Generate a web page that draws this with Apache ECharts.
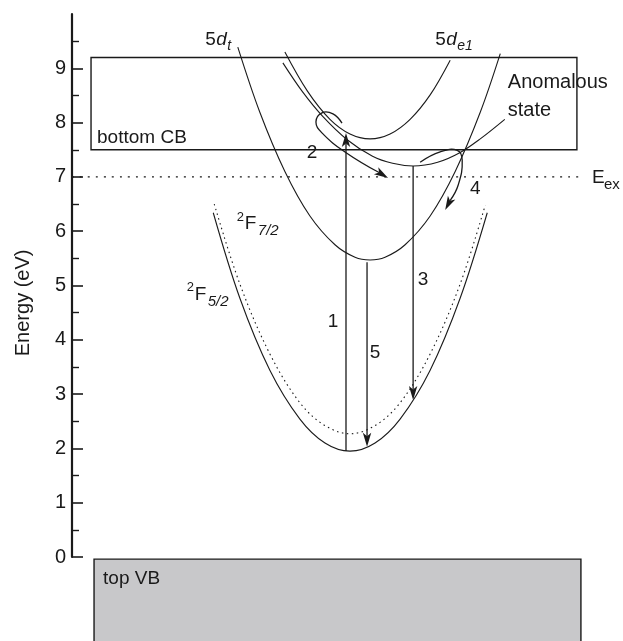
<!DOCTYPE html>
<html>
<head>
<meta charset="utf-8">
<script src="https://cdn.jsdelivr.net/npm/echarts@6/dist/echarts.min.js"></script>
<style>
  html, body { margin: 0; padding: 0; background: #fff; }
  #chart { width: 623px; height: 641px; }
</style>
</head>
<body>
<div id="chart"></div>
<script>
// Energy axis (eV)
const energyTicks = [0, 1, 2, 3, 4, 5, 6, 7, 8, 9];
const energyMax = 10;

// Potential curves: configuration coordinate Q (arb. units) and energy E (eV)
const f52Q = [2.82, 3.35, 3.95, 4.55, 5.05, 5.55, 6.05, 6.55, 7.15, 7.75, 8.29];
const f52E = [6.34, 4.77, 3.44, 2.54, 2.10, 1.95, 2.10, 2.54, 3.44, 4.77, 6.34];

const f72Q = [2.84, 3.35, 3.95, 4.55, 5.05, 5.55, 6.05, 6.55, 7.15, 7.75, 8.25];
const f72E = [6.50, 5.03, 3.74, 2.84, 2.42, 2.27, 2.42, 2.84, 3.74, 5.03, 6.48];

const dtQ = [3.31, 3.75, 4.25, 4.75, 5.25, 5.65, 5.95, 6.25, 6.65, 7.15, 7.65, 8.15, 8.55];
const dtE = [9.39, 8.19, 7.10, 6.28, 5.75, 5.52, 5.47, 5.52, 5.75, 6.28, 7.10, 8.19, 9.27];

const de1Q = [4.25, 4.70, 5.15, 5.55, 5.95, 6.35, 6.75, 7.15, 7.55];
const de1E = [9.30, 8.58, 8.06, 7.79, 7.70, 7.79, 8.06, 8.51, 9.15];

const anomQ = [4.21, 4.60, 5.01, 5.50, 6.00, 6.40, 6.81, 7.30, 7.75, 8.15, 8.64];
const anomE = [9.10, 8.57, 8.11, 7.68, 7.38, 7.25, 7.20, 7.27, 7.45, 7.70, 8.06];

// Exciton level E_ex
const exQ = [0, 10.2];
const exE = [7.0, 7.0];

// Band edges
const cbQ = [0.38, 10.08];
const cbE = [7.5, 9.2];
const vbQ = [0.44, 10.16];
const vbE = [-1.6, -0.04];

// Transitions (start ... end; the arrowhead sits on the last point)
const arrow1Q = [5.47, 5.47];
const arrow1E = [1.95, 7.81];
const arrow2Q = [5.39, 5.21, 4.99, 4.87, 4.99, 5.45, 6.31];
const arrow2E = [7.99, 8.16, 8.18, 8.01, 7.81, 7.46, 6.98];
const arrow3Q = [6.81, 6.81];
const arrow3E = [7.20, 2.89];
const arrow4Q = [6.95, 7.35, 7.69, 7.79, 7.71, 7.45];
const arrow4E = [7.27, 7.46, 7.49, 7.31, 6.85, 6.39];
const arrow5Q = [5.89, 5.89];
const arrow5E = [5.43, 2.03];

const pairs = (q, e) => q.map((v, i) => [v, e[i]]);
const arrows = [
  pairs(arrow1Q, arrow1E),
  pairs(arrow2Q, arrow2E),
  pairs(arrow3Q, arrow3E),
  pairs(arrow4Q, arrow4E),
  pairs(arrow5Q, arrow5E)
];

const FONT = '"Liberation Sans", Arial, Helvetica, sans-serif';
const INK = '#1a1a1a';

// Text labels, anchored in data space; pieces carry their own typographic offsets
const labels = [
  { at: [-0.96, 4.68], rot: true, pieces: [{ t: 'Energy (eV)', s: 20, align: 'center' }] },
  { at: [5.21, 4.33], pieces: [{ t: '1', s: 19, align: 'center' }] },
  { at: [4.79, 7.44], pieces: [{ t: '2', s: 19, align: 'center' }] },
  { at: [7.01, 5.10], pieces: [{ t: '3', s: 19, align: 'center' }] },
  { at: [8.05, 6.78], pieces: [{ t: '4', s: 19, align: 'center' }] },
  { at: [6.05, 3.76], pieces: [{ t: '5', s: 19, align: 'center' }] },
  { at: [0.50, 7.72], pieces: [{ t: 'bottom CB', s: 19 }] },
  { at: [0.62, -0.40], pieces: [{ t: 'top VB', s: 19 }] },
  { at: [8.70, 8.73], pieces: [{ t: 'Anomalous', s: 20 }] },
  { at: [8.70, 8.23], pieces: [{ t: 'state', s: 20 }] },
  { at: [10.38, 6.98], pieces: [{ t: 'E', s: 19 }, { t: 'ex', s: 15, dx: 12, dy: 7 }] },
  { at: [2.66, 9.52], pieces: [{ t: '5', s: 19 }, { t: 'd', s: 19, dx: 11, i: true }, { t: 't', s: 14, dx: 22, dy: 6, i: true }] },
  { at: [7.25, 9.52], pieces: [{ t: '5', s: 19 }, { t: 'd', s: 19, dx: 11, i: true }, { t: 'e1', s: 14, dx: 22, dy: 6, i: true }] },
  { at: [3.29, 6.13], pieces: [{ t: '2', s: 13, dy: -7 }, { t: 'F', s: 19, dx: 8 }, { t: '7/2', s: 15, dx: 21, dy: 7, i: true }] },
  { at: [2.29, 4.83], pieces: [{ t: '2', s: 13, dy: -7 }, { t: 'F', s: 19, dx: 8 }, { t: '5/2', s: 15, dx: 21, dy: 7, i: true }] }
];

function curve(name, q, e, dash) {
  return {
    name, type: 'line', data: pairs(q, e), smooth: 0.35, symbol: 'none',
    clip: false, silent: true, z: 3,
    lineStyle: { color: INK, width: 1.1, type: dash || 'solid' }
  };
}

function boxSeries(name, q, e, fill, z) {
  return {
    name, type: 'custom', clip: false, silent: true, z,
    data: [[q[0], e[0], q[1], e[1]]],
    renderItem(params, api) {
      const p0 = api.coord([api.value(0), api.value(3)]);
      const p1 = api.coord([api.value(2), api.value(1)]);
      return {
        type: 'rect',
        shape: { x: p0[0], y: p0[1], width: p1[0] - p0[0], height: p1[1] - p0[1] },
        style: { fill, stroke: INK, lineWidth: 1.4 }
      };
    }
  };
}

const option = {
  animation: false,
  backgroundColor: '#fff',
  grid: { left: 72, right: 0, top: 14, bottom: 84, containLabel: false },
  xAxis: { type: 'value', min: 0, max: 11, show: false },
  yAxis: {
    type: 'value', min: 0, max: energyMax, interval: 1,
    axisLine: { show: true, lineStyle: { color: INK, width: 2.2 } },
    axisTick: { show: true, inside: true, length: 11, customValues: energyTicks,
                lineStyle: { color: INK, width: 1.6 } },
    minorTick: { show: true, splitNumber: 2, length: 7, lineStyle: { color: INK, width: 1.4 } },
    splitLine: { show: false },
    axisLabel: {
      fontFamily: FONT, fontSize: 20, color: INK, margin: 6,
      customValues: energyTicks
    }
  },
  series: [
    boxSeries('top VB', vbQ, vbE, '#c8c8ca', 1),
    boxSeries('bottom CB', cbQ, cbE, 'rgba(0,0,0,0)', 2),
    curve('E_ex', exQ, exE, [2, 6]),
    curve('2F5/2', f52Q, f52E),
    curve('2F7/2', f72Q, f72E, [1.5, 3.5]),
    curve('5d_t', dtQ, dtE),
    curve('5d_e1', de1Q, de1E),
    curve('anomalous', anomQ, anomE),
    {
      name: 'transitions', type: 'custom', clip: false, silent: true, z: 5,
      data: arrows.map((_, i) => [i]),
      renderItem(params, api) {
        const pts = arrows[params.dataIndex].map(p => api.coord(p));
        const n = pts.length;
        const tip = pts[n - 1], prev = pts[n - 2];
        let ux = tip[0] - prev[0], uy = tip[1] - prev[1];
        const L = Math.hypot(ux, uy); ux /= L; uy /= L;
        const head = 14, half = 4.2;
        const base = [tip[0] - ux * head * 0.75, tip[1] - uy * head * 0.75];
        const back = [tip[0] - ux * head, tip[1] - uy * head];
        const left = [back[0] - uy * half, back[1] + ux * half];
        const right = [back[0] + uy * half, back[1] - ux * half];
        const linePts = pts.slice(0, n - 1).concat([base]);
        return {
          type: 'group',
          children: [
            { type: 'polyline', shape: { points: linePts, smooth: n > 2 ? 0.45 : 0 },
              style: { stroke: INK, fill: null, lineWidth: 1.3 } },
            { type: 'polygon', shape: { points: [tip, left, base, right] }, style: { fill: INK } }
          ]
        };
      }
    },
    {
      name: 'labels', type: 'custom', clip: false, silent: true, z: 6,
      data: labels.map((_, i) => [i]),
      renderItem(params, api) {
        const lab = labels[params.dataIndex];
        const p = api.coord(lab.at);
        return {
          type: 'group',
          x: p[0], y: p[1],
          rotation: lab.rot ? Math.PI / 2 : 0,
          children: lab.pieces.map(pc => ({
            type: 'text',
            x: pc.dx || 0, y: pc.dy || 0,
            style: {
              text: pc.t, fontSize: pc.s, fontFamily: FONT,
              fontStyle: pc.i ? 'italic' : 'normal',
              fill: INK, align: pc.align || 'left', verticalAlign: 'middle'
            }
          }))
        };
      }
    }
  ]
};

const chart = echarts.init(document.getElementById('chart'), null, { renderer: 'canvas' });
chart.setOption(option);
</script>
</body>
</html>
